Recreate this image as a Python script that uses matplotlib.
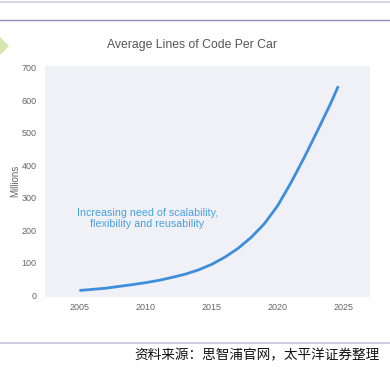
import matplotlib.pyplot as plt
from matplotlib.patches import Polygon
from matplotlib.lines import Line2D

plt.rcParams['font.family'] = ['Liberation Sans', 'DejaVu Sans']

# lines of code per car (millions)
years = [2005, 2007, 2009, 2010, 2011, 2012, 2013, 2014, 2015, 2016, 2017,
         2018, 2019, 2020, 2021, 2022, 2023, 2024, 2024.6]
loc_millions = [15, 22, 33, 39, 46, 55, 65, 78, 95, 117, 144,
                178, 220, 275, 345, 422, 504, 588, 643]
x_ticks = [2005, 2010, 2015, 2020, 2025]
y_ticks = [0, 100, 200, 300, 400, 500, 600, 700]

title = 'Average Lines of Code Per Car'
note = 'Increasing need of scalability,\nflexibility and reusability'
source = '资料来源：思智浦官网，太平洋证券整理'

fig = plt.figure(figsize=(3.9, 3.68), dpi=100)
W, H = 390, 368

# page decorations
fig.add_artist(Line2D([0, 1], [1 - 2 / H, 1 - 2 / H], color='#cfcfe4', lw=1.2))
fig.add_artist(Line2D([0, 1], [1 - 20 / H, 1 - 20 / H], color='#8c8cc0', lw=1.0))
fig.add_artist(Line2D([0, 1], [1 - 343 / H, 1 - 343 / H], color='#c4c4dc', lw=1.2))
diamond = Polygon([[0, 1 - 37 / H], [9 / W, 1 - 46 / H], [0, 1 - 55 / H]],
                  closed=True, transform=fig.transFigure, color='#d6e6ad', lw=0)
fig.add_artist(diamond)

ax = fig.add_axes([45 / W, 1 - 297 / H, 325 / W, 231 / H])
ax.set_facecolor('#eff1f6')
for s in ax.spines.values():
    s.set_visible(False)

ax.plot(years, loc_millions, color='#3d8edb', lw=2.0, solid_capstyle='butt',
        solid_joinstyle='round')

ax.set_xlim(2002.4, 2027.0)
ax.set_ylim(-5, 705)
ax.set_xticks(x_ticks)
ax.set_yticks(y_ticks)
ax.tick_params(length=0, labelsize=6.5, colors='#666666')
ax.tick_params(axis='y', pad=6)
ax.tick_params(axis='x', pad=4)

ax.text(2010.15, 236, note, ha='center', va='center', fontsize=7.7,
        color='#4a9fe0', linespacing=1.15)

fig.text(15 / W, 1 - 181 / H, 'Millions', rotation=90, ha='center',
         va='center', fontsize=7, color='#666666')
fig.text(192 / W, 1 - 45 / H, title, ha='center', va='center',
         fontsize=8.8, color='#555555')
fig.text(380 / W, 1 - 355 / H, source, ha='right', va='center',
         fontsize=9.8, color='#111111',
         family=['Noto Sans CJK SC', 'DejaVu Sans'])

fig.savefig('out.png', dpi=100)
